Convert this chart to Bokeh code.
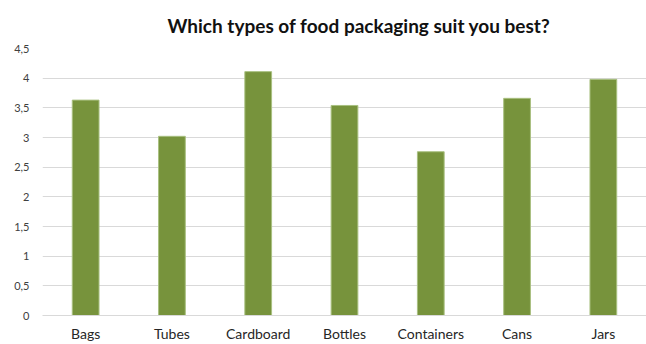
from bokeh.plotting import figure
from bokeh.models import FixedTicker, ColumnDataSource
from bokeh.embed import file_html
from bokeh.resources import INLINE

# Survey: average score per packaging type
categories = ["Bags", "Tubes", "Cardboard", "Bottles", "Containers", "Cans", "Jars"]
scores = [3.63, 3.02, 4.11, 3.54, 2.76, 3.66, 3.98]

y_ticks = [0, 0.5, 1, 1.5, 2, 2.5, 3, 3.5, 4, 4.5]
y_tick_labels = ["0", "0,5", "1", "1,5", "2", "2,5", "3", "3,5", "4", "4,5"]

FONT = "Lato"

source = ColumnDataSource(data=dict(cat=categories, score=scores))

p = figure(
    x_range=categories,
    y_range=(0, 4.5),
    width=646,
    height=344,
    min_border_left=42,
    min_border_right=0,
    min_border_top=48,
    min_border_bottom=0,
    output_backend="svg",
    toolbar_location=None,
    title="Which types of food packaging suit you best?",
)

p.vbar(x="cat", top="score", width=0.31, source=source,
       fill_color="#77933c", line_color="#a9c080", line_width=1)

# title
p.title.align = "left"
p.title.offset = 125
p.title.text_font = FONT
p.title.text_font_size = "19px"
p.title.text_font_style = "bold"
p.title.text_color = "#111111"
p.title.standoff = 23

# y axis
p.yaxis.ticker = FixedTicker(ticks=y_ticks)
p.yaxis.major_label_overrides = {t: s for t, s in zip(y_ticks, y_tick_labels)}
p.yaxis.axis_line_color = None
p.yaxis.major_tick_line_color = None
p.yaxis.minor_tick_line_color = None
p.yaxis.major_tick_out = 0
p.yaxis.major_label_standoff = 13
p.yaxis.major_label_text_font = FONT
p.yaxis.major_label_text_font_size = "11px"
p.yaxis.major_label_text_color = "#404040"

# x axis
p.xaxis.axis_line_color = "#d9d9d9"
p.xaxis.axis_line_width = 1
p.xaxis.major_tick_line_color = None
p.xaxis.minor_tick_line_color = None
p.xaxis.major_tick_out = 0
p.xaxis.major_label_standoff = 9
p.xaxis.major_label_text_font = FONT
p.xaxis.major_label_text_font_size = "14px"
p.xaxis.major_label_text_color = "#262626"

p.xgrid.grid_line_color = None
p.ygrid.grid_line_color = "#d9d9d9"
p.ygrid.grid_line_width = 1
p.outline_line_color = None
p.background_fill_color = "white"
p.border_fill_color = "white"

open("out.html", "w").write(file_html(p, INLINE))
